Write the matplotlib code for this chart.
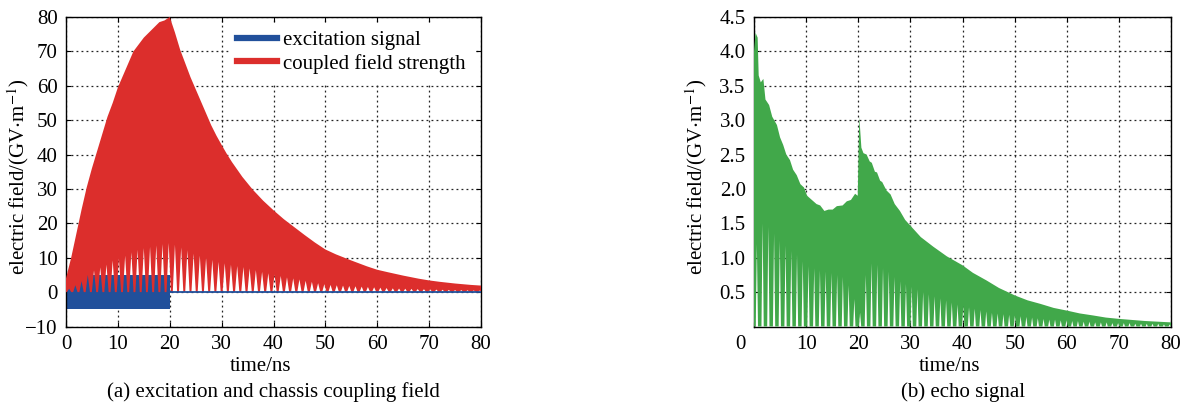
import matplotlib
matplotlib.use('agg')
import matplotlib.pyplot as plt
from matplotlib.lines import Line2D
import numpy as np

plt.rcParams['font.family'] = ['Liberation Serif', 'DejaVu Serif']
plt.rcParams['mathtext.fontset'] = 'stix'
plt.rcParams['font.size'] = 15

# (a) coupled field: upper envelope of the oscillation, GV/m
red_t = [0, 1, 2, 3, 4, 5, 6, 7, 8, 9, 10, 11, 12, 13, 14, 15, 16, 17, 18, 19, 20,
         21, 22, 23, 24, 25, 26, 27, 28, 29, 30, 31, 32, 34, 36, 38, 40, 42, 44, 46,
         48, 50, 52, 55, 58, 60, 62, 65, 68, 70, 72, 75, 78, 80]
red_top = [4, 10, 17, 24, 30.5, 36, 41, 46, 51, 55, 59.5, 63, 66.5, 70, 72, 74, 75.5,
           77, 78.5, 79, 80, 75.5, 70.5, 66.5, 62.5, 59, 55.5, 52, 48.5, 45.5, 42.8,
           40.2, 37.8, 33.5, 29.8, 26.6, 23.8, 21.2, 18.9, 16.6, 14.4, 12.4, 11, 9.2,
           7.5, 6.5, 5.8, 4.8, 3.9, 3.4, 3.0, 2.5, 2.1, 1.9]
# carrier period (ns) and the level each trough of the coupled field climbs to
red_period = 1.2
red_dips = [1.0, 2.0, 3.2, 5.0, 6.3, 7.2, 8.0, 9.2, 9.8, 10.6, 11.6, 12.3, 12.8, 13.2,
            13.6, 14.0, 14.3, 13.8, 13.0, 12.2, 11.2, 10.6, 10.0, 9.4, 8.8, 8.4, 8.0,
            7.6, 7.3, 6.9, 6.4, 5.9, 5.5, 5.1, 4.7, 4.3, 4.0, 3.7, 3.3, 3.0, 2.6, 2.3,
            2.1, 2.0, 1.9, 1.8, 1.7, 1.6, 1.5, 1.4, 1.3, 1.2, 1.1, 1.05, 1.0, 0.95,
            0.9, 0.85, 0.8, 0.75, 0.7, 0.65, 0.6, 0.6, 0.55, 0.5, 0.5]

# excitation pulse
exc_amp = 5.0
exc_end = 20.0

# (b) echo: upper envelope
echo_t = [0.0, 0.3, 0.7, 0.9, 1.3, 1.8, 2.2, 2.9, 3.5, 4.4, 5.0, 5.6, 6.2, 6.9, 7.5,
          8.2, 8.9, 9.6, 10.2, 10.8, 12.0, 12.7, 13.5, 14.3, 15.1, 15.9, 17.0, 17.8,
          18.6, 19.4, 19.9, 20.2, 20.6, 21.0, 21.6, 22.2, 22.6, 23.2, 23.6, 24.2,
          24.6, 25.4, 26.2, 27.0, 28.0, 29.0, 30.2, 32.0, 34.4, 37.0, 40.0, 42.0,
          44.6, 47.0, 50.1, 52.5, 54.9, 57.5, 60.1, 62.5, 65.1, 67.5, 70.1, 75.0, 80.0]
echo_top = [4.0, 4.27, 4.2, 3.65, 3.55, 3.6, 3.3, 3.22, 3.05, 2.93, 2.75, 2.64, 2.5,
            2.42, 2.28, 2.2, 2.07, 2.02, 1.9, 1.86, 1.78, 1.76, 1.68, 1.7, 1.7, 1.75,
            1.76, 1.82, 1.84, 1.93, 1.9, 3.05, 2.6, 2.52, 2.5, 2.4, 2.38, 2.25, 2.24,
            2.12, 2.1, 1.98, 1.92, 1.78, 1.68, 1.55, 1.45, 1.3, 1.16, 1.02, 0.89,
            0.78, 0.67, 0.56, 0.45, 0.38, 0.33, 0.27, 0.23, 0.19, 0.16, 0.13, 0.11,
            0.08, 0.06]
echo_period = 1.1
echo_dips = [1.2, 1.5, 1.45, 1.35, 1.25, 1.18, 1.1, 1.05, 0.95, 0.88,
             0.85, 0.82, 0.8, 0.78, 0.75, 0.72, 0.6, 0.4, 0.2, 0.75,
             0.92, 0.9, 0.85, 0.8, 0.72, 0.66, 0.62, 0.58, 0.54, 0.5,
             0.47, 0.44, 0.41, 0.38, 0.35, 0.32, 0.3, 0.28, 0.26, 0.24,
             0.22, 0.2, 0.19, 0.18, 0.17, 0.16, 0.15, 0.14, 0.13, 0.12,
             0.11, 0.1, 0.1, 0.09, 0.09, 0.08, 0.08, 0.07, 0.07, 0.06,
             0.06, 0.06, 0.05, 0.05, 0.05, 0.05, 0.04, 0.04, 0.04, 0.04,
             0.04, 0.03, 0.03]

RED = '#dc2e2c'
BLUE = '#21509b'
GREEN = '#41a84a'


def carrier_fill(ax, t, top, period, dips, width, color, z):
    # envelope on top, troughs as narrow notches rising from zero
    half = width * period / 2
    bx, by = [t[-1]], [0]
    for k in range(len(dips) - 1, -1, -1):
        c = period * (k + 0.5)
        bx += [min(c + half, t[-1]), c, max(c - half, t[0])]
        by += [0, dips[k], 0]
    bx.append(t[0])
    by.append(0)
    ax.fill(list(t) + bx, list(top) + by, color=color, lw=0, zorder=z)


def style(ax):
    ax.set_axisbelow(True)
    ax.grid(True, color='#222222', linestyle=(0, (1.5, 2.5)), lw=0.9)
    ax.tick_params(direction='in', length=3.5, top=True, right=True, labelsize=15, pad=6)
    for s in ax.spines.values():
        s.set_linewidth(1.0)
    ax.set_xlim(0, 80)
    ax.set_xticks(np.arange(0, 81, 10))
    ax.set_xlabel('time/ns')
    ax.xaxis.set_label_coords(0.469, -0.097)


fig = plt.figure(figsize=(11.89, 4.05), dpi=100)
ax1 = fig.add_axes([66 / 1189, 1 - 326.5 / 405, 415 / 1189, 309.5 / 405])
ax2 = fig.add_axes([754 / 1189, 1 - 326.5 / 405, 417 / 1189, 309.5 / 405])

# (a)
ax1.fill_between([0, exc_end], -exc_amp, exc_amp, color=BLUE, lw=0, zorder=2)
carrier_fill(ax1, red_t, red_top, red_period, red_dips, 0.7, RED, 3)
ax1.plot([exc_end, 80], [0, 0], color=BLUE, lw=1.3, zorder=4)
style(ax1)
ax1.set_ylim(-10, 80)
ax1.set_yticks(np.arange(-10, 81, 10))
ax1.set_ylabel(r'electric field/(GV$\cdot$m$^{-1}$)')
ax1.yaxis.set_label_coords(-0.084, 0.485)
handles = [Line2D([], [], color=BLUE, lw=4.5), Line2D([], [], color=RED, lw=4.5)]
leg = ax1.legend(handles, ['excitation signal', 'coupled field strength'],
                 loc='upper left', bbox_to_anchor=(0.393, 0.982), frameon=True,
                 fancybox=False, edgecolor='white', facecolor='white', framealpha=1,
                 handlelength=1.9, handletextpad=0.3, borderaxespad=0,
                 labelspacing=0.15, fontsize=15)
leg.set_zorder(5)

# (b)
carrier_fill(ax2, echo_t, echo_top, echo_period, echo_dips, 0.4, GREEN, 3)
style(ax2)
ax2.set_ylim(0, 4.5)
ax2.set_yticks(np.arange(0.5, 4.51, 0.5))
ax2.set_yticklabels(['%.1f' % v for v in np.arange(0.5, 4.51, 0.5)])
ax2.set_xticklabels([''] + [str(v) for v in range(10, 81, 10)])
ax2.annotate('0', xy=(0, 0), xycoords=('data', 'axes fraction'),
             xytext=(-9.7, -6), textcoords='offset points',
             ha='center', va='top', fontsize=15)
ax2.set_ylabel(r'electric field/(GV$\cdot$m$^{-1}$)')
ax2.yaxis.set_label_coords(-0.108, 0.485)

fig.text(273 / 1189, 1 - 392 / 405, '(a) excitation and chassis coupling field',
         ha='center', va='center', fontsize=15)
fig.text(963 / 1189, 1 - 392 / 405, '(b) echo signal',
         ha='center', va='center', fontsize=15)

fig.savefig('out.png', dpi=100)
